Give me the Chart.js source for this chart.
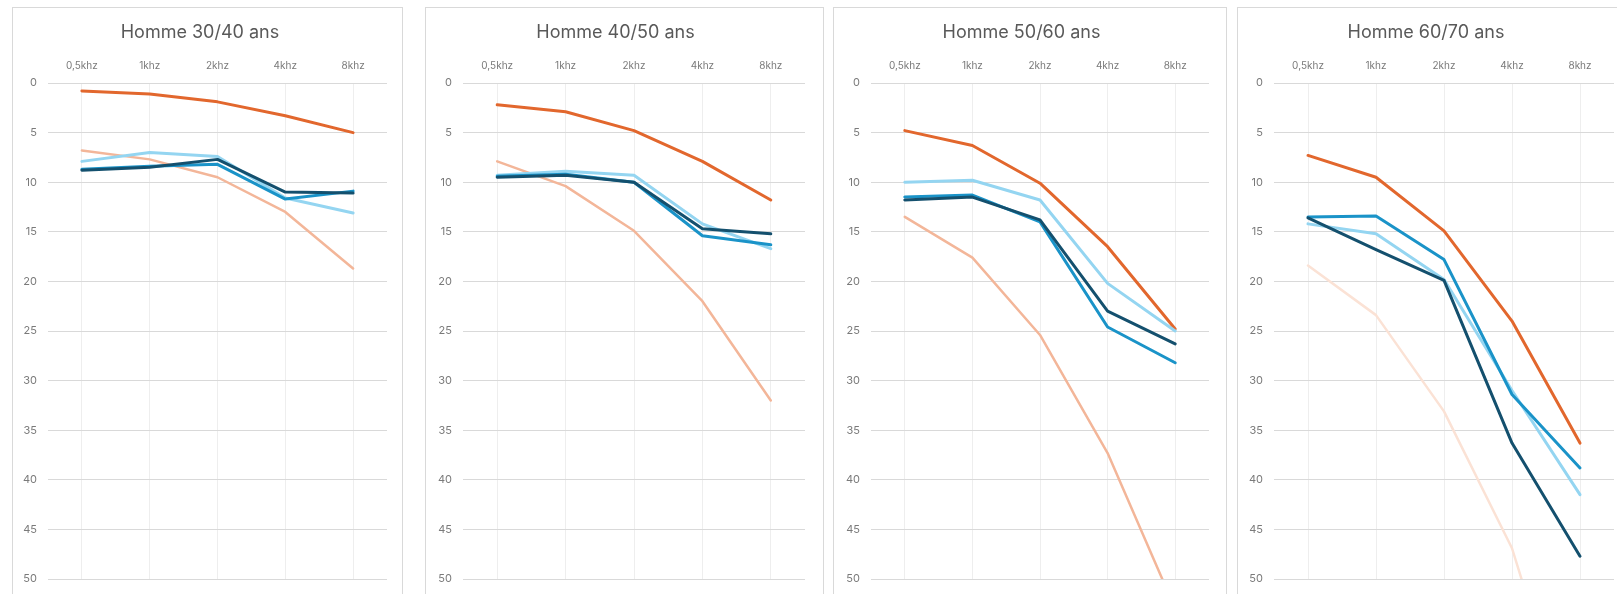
<!doctype html>
<html lang="fr">
<head>
    <meta charset="utf-8">
    <title>Audiogrammes Homme</title>
    <script src="https://cdn.jsdelivr.net/npm/chart.js"></script>
    <style>
        html, body { margin: 0; padding: 0; background: #fff; overflow: hidden; }
        body { width: 1617px; height: 594px; position: relative; }
        .panel {
            position: absolute; top: 7px; height: 620px;
            box-sizing: border-box; border: 1px solid #d9d9d9; background: #fff;
            overflow: hidden;
        }
        .panel canvas { display: block; }
    </style>
</head>
<body>
    <div class="panel" id="p0"><canvas id="c0"></canvas></div>
    <div class="panel" id="p1"><canvas id="c1"></canvas></div>
    <div class="panel" id="p2"><canvas id="c2"></canvas></div>
    <div class="panel" id="p3"><canvas id="c3"></canvas></div>

    <script>
        // data (dB loss, axis reversed)
        const frequencies = ['0,5khz', '1khz', '2khz', '4khz', '8khz'];
        const panelTitles = ['Homme 30/40 ans', 'Homme 40/50 ans', 'Homme 50/60 ans', 'Homme 60/70 ans'];

        const navySeries = [
            [8.8, 8.5, 7.7, 11.0, 11.1],
            [9.5, 9.3, 10.0, 14.7, 15.2],
            [11.8, 11.5, 13.8, 23.0, 26.3],
            [13.6, 16.8, 19.9, 36.3, 47.7]
        ];
        const blueSeries = [
            [8.7, 8.4, 8.2, 11.7, 10.9],
            [9.4, 9.2, 10.0, 15.4, 16.3],
            [11.5, 11.3, 14.0, 24.6, 28.2],
            [13.5, 13.4, 17.8, 31.4, 38.8]
        ];
        const lightBlueSeries = [
            [7.9, 7.0, 7.4, 11.6, 13.1],
            [9.3, 8.9, 9.3, 14.2, 16.7],
            [10.0, 9.8, 11.8, 20.2, 25.0],
            [14.2, 15.2, 19.8, 31.0, 41.5]
        ];
        const orangeSeries = [
            [0.8, 1.1, 1.9, 3.3, 5.0],
            [2.2, 2.9, 4.8, 7.9, 11.8],
            [4.8, 6.3, 10.1, 16.5, 24.8],
            [7.3, 9.5, 14.9, 24.0, 36.3]
        ];
        const peachSeries = [
            [6.8, 7.7, 9.5, 13.0, 18.7],
            [7.9, 10.4, 14.9, 22.0, 32.0],
            [13.5, 17.6, 25.4, 37.3, 53.0],
            [18.4, 23.4, 33.1, 46.9, 69.0]
        ];

        // panel geometry: left, width, y-axis width, right padding
        const panels = [
            { left: 12, width: 391, yw: 35, pr: 15 },
            { left: 425, width: 399, yw: 37, pr: 18 },
            { left: 833, width: 394, yw: 37, pr: 17 },
            { left: 1237, width: 396, yw: 36, pr: 18 }
        ];
        const peachColors = ['#f3b699', '#f3b699', '#f3b699', '#fbe2d5'];

        const FONT = 'Inter, "Noto Sans", sans-serif';
        const canvasH = 590;
        const plotBottom = 579 - 8; // in canvas coords

        panels.forEach((p, i) => {
            const div = document.getElementById('p' + i);
            div.style.left = p.left + 'px';
            div.style.width = p.width + 'px';
            const cv = document.getElementById('c' + i);
            cv.width = p.width - 2;
            cv.height = canvasH;

            const line = (data, color, w) => ({
                data: data, borderColor: color, backgroundColor: color,
                borderWidth: w, pointRadius: 0, tension: 0, fill: false,
                borderCapStyle: 'round', borderJoinStyle: 'round'
            });

            new Chart(cv.getContext('2d'), {
                type: 'line',
                data: {
                    labels: frequencies,
                    // first dataset is drawn on top
                    datasets: [
                        line(navySeries[i], '#14506e', 3),
                        line(blueSeries[i], '#1a93c8', 3),
                        line(lightBlueSeries[i], '#94d5f1', 3),
                        line(orangeSeries[i], '#e2672d', 3),
                        line(peachSeries[i], peachColors[i], 2.5)
                    ]
                },
                options: {
                    responsive: false,
                    animation: false,
                    layout: { padding: { left: 0, right: p.pr, top: 0, bottom: canvasH - plotBottom } },
                    plugins: {
                        legend: { display: false },
                        tooltip: { enabled: false },
                        title: {
                            display: true,
                            text: panelTitles[i],
                            color: '#595959',
                            font: { family: FONT, size: 18, weight: 'normal', lineHeight: 1.2 },
                            padding: { top: 14, bottom: 0 }
                        }
                    },
                    scales: {
                        x: {
                            position: 'top',
                            offset: true,
                            grid: { offset: false, color: '#eeeeee', drawTicks: false },
                            border: { display: false },
                            ticks: { color: '#7a7a7a', font: { family: FONT, size: 10 }, padding: 11, maxRotation: 0 },
                            afterFit: (scale) => { scale.height = 75 - 35.6; }
                        },
                        y: {
                            reverse: true,
                            min: 0,
                            max: 50,
                            grid: { color: '#d9d9d9', drawTicks: false },
                            border: { display: false },
                            ticks: { stepSize: 5, color: '#7a7a7a', font: { family: FONT, size: 11 }, padding: 11 },
                            afterFit: (scale) => { scale.width = p.yw; }
                        }
                    }
                }
            });
        });
    </script>
</body>
</html>
